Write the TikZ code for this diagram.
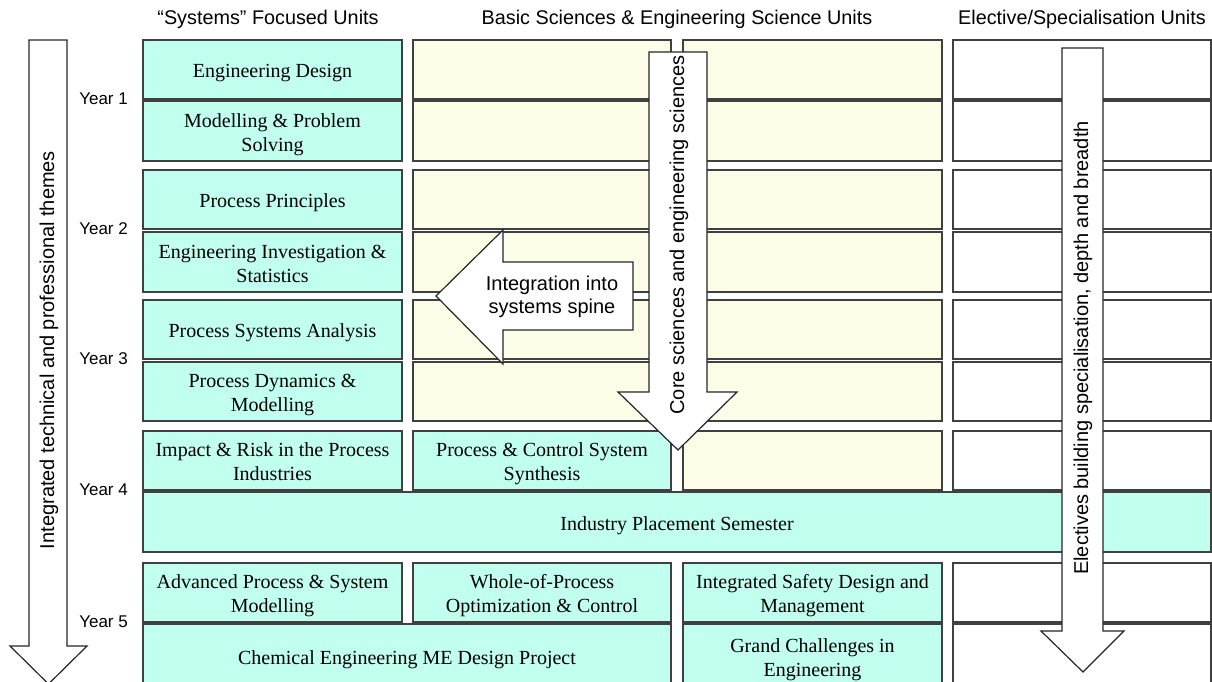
\documentclass[tikz,border=0pt]{standalone}
\usepackage{fontspec}
\setmainfont{Liberation Serif}
\setsansfont{Liberation Sans}
\usetikzlibrary{positioning}

\definecolor{unitteal}{RGB}{193,255,238}
\definecolor{unitcream}{RGB}{252,252,231}

\begin{document}
\begin{tikzpicture}[%
  x=1pt, y=-1pt,
  unit/.style={draw=black!75, line width=1.4pt, anchor=north west,
    outer sep=0pt, inner sep=0pt, minimum width=259, minimum height=59,
    text height=16.5pt, text depth=0pt,
    align=center, font=\fontsize{20}{24}\selectfont},
  twoline/.style={text height=40.5pt},
  sysunit/.style={unit, fill=unitteal},
  sciunit/.style={unit, fill=unitcream},
  elecunit/.style={unit, fill=white},
  bigarrow/.style={draw=black!85, line width=1.2pt, fill=white},
  arrowtext/.style={font=\sffamily\fontsize{20}{23}\selectfont, align=center},
  heading/.style={font=\sffamily\fontsize{19.8}{22}\selectfont, anchor=base},
  yearlabel/.style={font=\sffamily\fontsize{17}{20}\selectfont, inner sep=0pt},
]

  \useasboundingbox (0,0) rectangle (1212,682);

  % column headings
  \node[heading] (h1) at (268,25) {“Systems” Focused Units};
  \node[heading] (h2) at (677,25) {Basic Sciences \& Engineering Science Units};
  \node[heading] (h3) at (1082,25) {Elective/Specialisation Units};

  % year 1
  \node[sysunit] (s1) at (143,40) {Engineering Design};
  \node[sysunit, twoline, minimum height=60] (s2) at (143,101) {Modelling \& Problem\\Solving};
  \node[sciunit, minimum width=258] (b1) at (413,40) {};
  \node[sciunit, minimum width=258, minimum height=60] (b2) at (413,101) {};
  \node[sciunit] (c1) at (683,40) {};
  \node[sciunit, minimum height=60] (c2) at (683,101) {};
  \node[elecunit, minimum width=258] (e1) at (953,40) {};
  \node[elecunit, minimum width=258, minimum height=60] (e2) at (953,101) {};

  % year 2
  \node[sysunit] (s3) at (143,170) {Process Principles};
  \node[sysunit, twoline, minimum height=60] (s4) at (143,232) {Engineering Investigation \&\\Statistics};
  \node[sciunit, minimum width=258] (b3) at (413,170) {};
  \node[sciunit, minimum width=258, minimum height=60] (b4) at (413,232) {};
  \node[sciunit] (c3) at (683,170) {};
  \node[sciunit, minimum height=60] (c4) at (683,232) {};
  \node[elecunit, minimum width=258] (e3) at (953,170) {};
  \node[elecunit, minimum width=258, minimum height=60] (e4) at (953,232) {};

  % year 3
  \node[sysunit] (s5) at (143,300) {Process Systems Analysis};
  \node[sysunit, twoline] (s6) at (143,362) {Process Dynamics \&\\Modelling};
  \node[sciunit, minimum width=258] (b5) at (413,300) {};
  \node[sciunit, minimum width=258] (b6) at (413,362) {};
  \node[sciunit] (c5) at (683,300) {};
  \node[sciunit] (c6) at (683,362) {};
  \node[elecunit, minimum width=258] (e5) at (953,300) {};
  \node[elecunit, minimum width=258] (e6) at (953,362) {};

  % year 4
  \node[sysunit, twoline] (s7) at (143,431) {Impact \& Risk in the Process\\Industries};
  \node[sysunit, twoline, minimum width=258] (b7) at (413,431) {Process \& Control System\\Synthesis};
  \node[sciunit] (c7) at (683,431) {};
  \node[elecunit, minimum width=258] (e7) at (953,431) {};
  \node[sysunit, minimum width=1068, minimum height=60] (ip) at (143,492) {Industry Placement Semester};

  % year 5
  \node[sysunit, twoline] (s9) at (143,563) {Advanced Process \& System\\Modelling};
  \node[sysunit, twoline, minimum width=258] (b9) at (413,563) {Whole-of-Process\\Optimization \& Control};
  \node[sysunit, twoline] (c9) at (683,563) {Integrated Safety Design and\\Management};
  \node[elecunit, minimum width=258] (e9) at (953,563) {};
  \node[sysunit, minimum width=528, minimum height=64] (s10) at (143,624) {Chemical Engineering ME Design Project};
  \node[sysunit, twoline, minimum height=64] (c10) at (683,624) {Grand Challenges in\\Engineering};
  \node[elecunit, minimum width=258, minimum height=64] (e10) at (953,624) {};

  % year labels
  \node[yearlabel, left=15pt of s1.south west] (y1) {Year 1};
  \node[yearlabel, left=15pt of s3.south west] (y2) {Year 2};
  \node[yearlabel, left=15pt of s5.south west] (y3) {Year 3};
  \node[yearlabel, left=15pt of s7.south west] (y4) {Year 4};
  \node[yearlabel, left=15pt of s9.south west] (y5) {Year 5};

  % block arrows
  \draw[bigarrow] (29,40) -- (67,40) -- (67,646) -- (87,646) -- (48.5,684)
    -- (10,646) -- (29,646) -- cycle;
  \node[arrowtext, rotate=90] (t1) at (49,350)
    {Integrated technical and professional themes};

  \draw[bigarrow] (649,52) -- (707,52) -- (707,392) -- (737,392) -- (678,450)
    -- (618,392) -- (649,392) -- cycle;
  \node[arrowtext, rotate=90] (t2) at (679,235)
    {Core sciences and engineering sciences};

  \draw[bigarrow] (1062,48) -- (1103,48) -- (1103,631) -- (1124,631) -- (1083,672)
    -- (1041,631) -- (1062,631) -- cycle;
  \node[arrowtext, rotate=90] (t3) at (1083,348)
    {Electives building specialisation, depth and breadth};

  \draw[bigarrow] (436,296) -- (503,230) -- (503,262) -- (633,262) -- (633,330)
    -- (503,330) -- (503,364) -- cycle;
  \node[arrowtext] (t4) at (552,297) {Integration into\\systems spine};

\end{tikzpicture}
\end{document}
